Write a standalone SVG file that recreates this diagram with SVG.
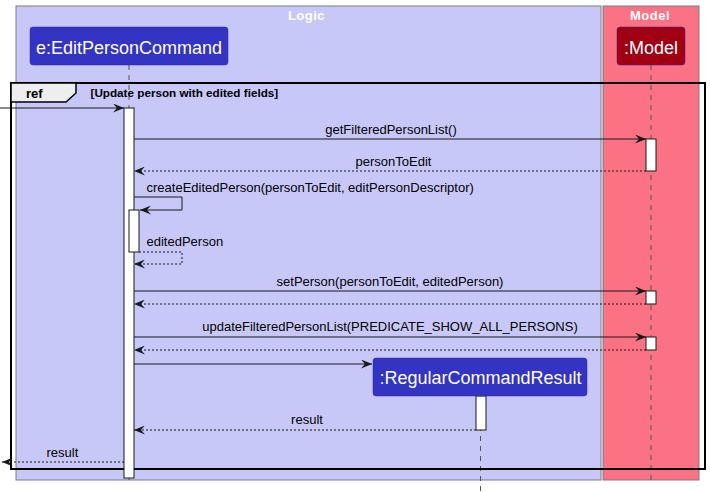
<svg xmlns="http://www.w3.org/2000/svg" width="710" height="492" viewBox="0 0 710 492">
<style>
text{font-family:"Liberation Sans",Arial,sans-serif;}
.box{stroke:#7a7a8a;stroke-width:1;}
.btitle{font-size:13px;font-weight:bold;fill:#ffffff;text-anchor:middle;letter-spacing:0.5px;}
.part{stroke:#2a2a9a;stroke-width:0.5;}
.ptext{font-size:18px;fill:#ffffff;text-anchor:middle;}
.life{stroke:#555;stroke-width:1;stroke-dasharray:5,5;fill:none;}
.act{fill:#ffffff;stroke:#181818;stroke-width:1;}
.msg{stroke:#181818;stroke-width:1;fill:none;}
.ret{stroke:#181818;stroke-width:1;fill:none;stroke-dasharray:2,2;}
.lbl{font-size:13px;fill:#000;}
.mid{text-anchor:middle;}
</style>
<defs>
<marker id="ah" viewBox="0 0 11 9" refX="11" refY="4.5" markerWidth="11" markerHeight="9" markerUnits="userSpaceOnUse" orient="auto">
<path d="M0,0 L11,4.5 L0,9 L4,4.5 Z" fill="#181818"/>
</marker>
</defs>
<g id="logic-box">
<rect class="box" x="16" y="6" width="585" height="474" fill="#C8C8F8"/>
<text class="btitle" x="306.5" y="20">Logic</text>
</g>
<g id="model-box">
<rect class="box" x="603" y="6" width="96" height="474" fill="#FB7285"/>
<text class="btitle" x="650" y="20">Model</text>
</g>
<g id="lifelines">
<line class="life" x1="129" y1="65" x2="129" y2="485"/>
<line class="life" x1="651" y1="65" x2="651" y2="482"/>
<line class="life" x1="480.5" y1="396" x2="480.5" y2="492"/>
</g>
<g id="editPersonCommand">
<rect class="part" x="30" y="27" width="198" height="38" rx="3" fill="#3333C4"/>
<text class="ptext" x="129" y="54">e:EditPersonCommand</text>
</g>
<g id="model">
<rect class="part" x="617" y="27" width="68" height="38" rx="3" fill="#A10014" stroke="#7a0010"/>
<text class="ptext" x="651" y="54">:Model</text>
</g>
<g id="ref-frame">
<rect x="11" y="83" width="694" height="386" fill="none" stroke="#000" stroke-width="2"/>
<path d="M11,83 L76,83 L76,93 L66,102 L11,102 Z" fill="#EEEEEE" stroke="#000" stroke-width="1.5"/>
<text x="26" y="98" font-size="13" font-weight="bold">ref</text>
<text x="90.5" y="97" font-size="11.7" font-weight="bold">[Update person with edited fields]</text>
</g>
<g id="activations">
<rect class="act" x="124" y="108" width="10" height="370"/>
<rect class="act" x="129" y="210" width="10" height="42"/>
<rect class="act" x="646" y="139" width="10" height="32"/>
<rect class="act" x="646" y="291" width="10" height="13"/>
<rect class="act" x="646" y="337" width="10" height="13"/>
<rect class="act" x="476" y="396" width="10" height="34"/>
</g>
<g id="regularCommandResult">
<rect class="part" x="373" y="358" width="214" height="38" rx="3" fill="#3333C4"/>
<text class="ptext" x="480.5" y="384">:RegularCommandResult</text>
</g>
<g id="connectors">
<line class="msg" x1="0" y1="108" x2="124" y2="108" marker-end="url(#ah)"/>
<line class="msg" x1="134" y1="139" x2="646" y2="139" marker-end="url(#ah)"/>
<text class="lbl mid" x="391" y="134">getFilteredPersonList()</text>
<line class="ret" x1="646" y1="171" x2="134" y2="171" marker-end="url(#ah)"/>
<text class="lbl" x="355.5" y="166">personToEdit</text>
<polyline class="msg" points="134,197 182,197 182,210 140,210" marker-end="url(#ah)"/>
<text class="lbl" x="146.5" y="192">createEditedPerson(personToEdit, editPersonDescriptor)</text>
<polyline class="ret" points="139,252 182,252 182,264 134,264" marker-end="url(#ah)"/>
<text class="lbl" x="146.5" y="246">editedPerson</text>
<line class="msg" x1="134" y1="291" x2="646" y2="291" marker-end="url(#ah)"/>
<text class="lbl mid" x="390" y="286">setPerson(personToEdit, editedPerson)</text>
<line class="ret" x1="646" y1="304" x2="134" y2="304" marker-end="url(#ah)"/>
<line class="msg" x1="134" y1="337" x2="646" y2="337" marker-end="url(#ah)"/>
<text class="lbl mid" x="390" y="331">updateFilteredPersonList(PREDICATE_SHOW_ALL_PERSONS)</text>
<line class="ret" x1="646" y1="350" x2="134" y2="350" marker-end="url(#ah)"/>
<line class="msg" x1="134" y1="364" x2="372" y2="364" marker-end="url(#ah)"/>
<line class="ret" x1="476" y1="430" x2="134" y2="430" marker-end="url(#ah)"/>
<text class="lbl mid" x="307" y="424">result</text>
<line class="ret" x1="124" y1="462" x2="2" y2="462" marker-end="url(#ah)"/>
<text class="lbl" x="46.5" y="457">result</text>
</g>
</svg>
